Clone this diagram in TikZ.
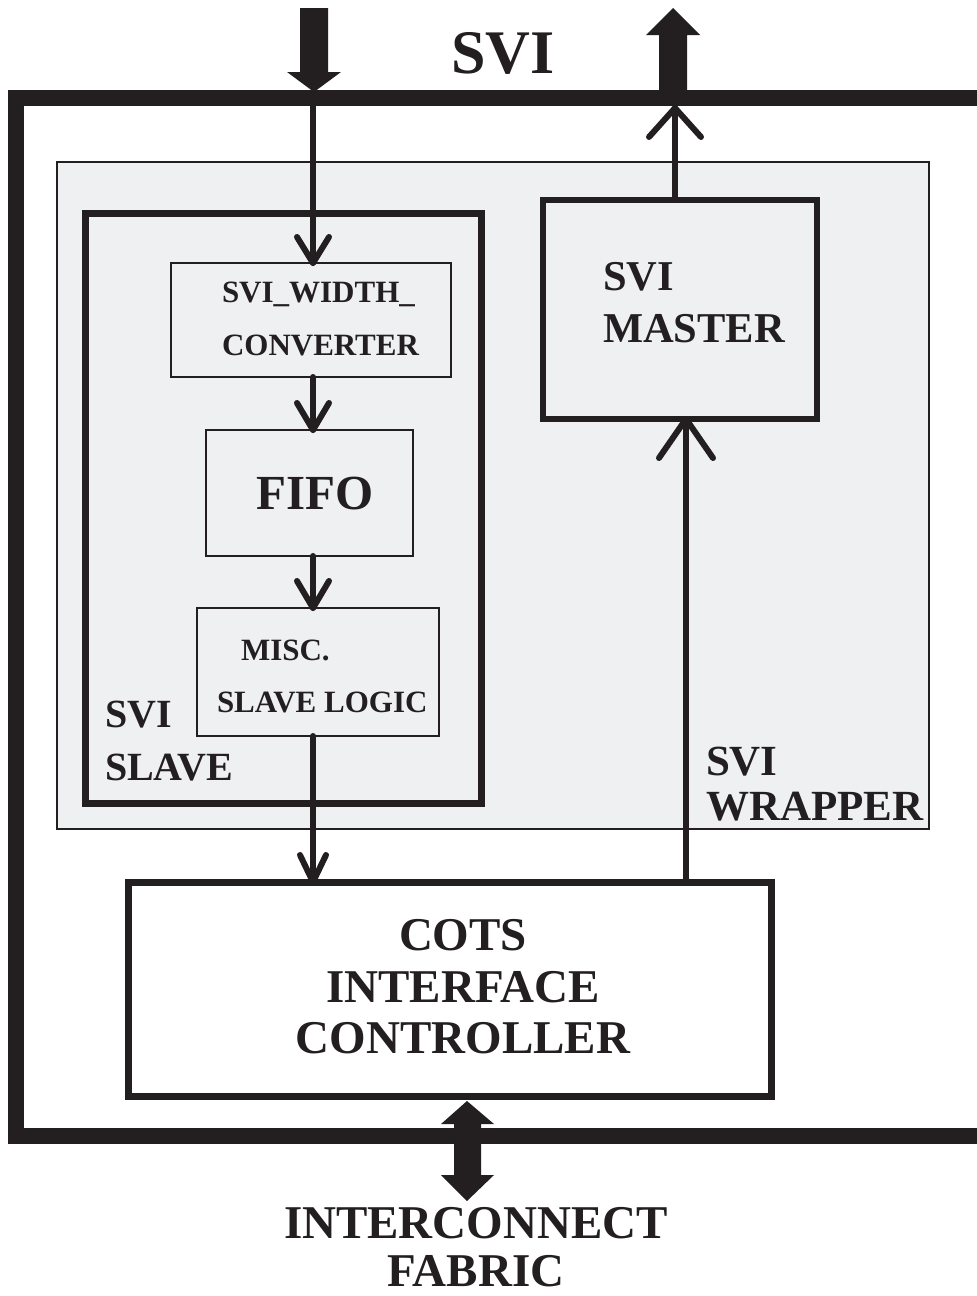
\documentclass[tikz,border=0pt]{standalone}
\usepackage{fontspec}
\setmainfont{Liberation Serif}
\definecolor{ink}{HTML}{231F20}
\definecolor{wrapfill}{HTML}{EFF0F2}
\tikzset{
  box/.style={draw=ink, fill=wrapfill, inner sep=0pt, outer sep=0pt, anchor=north west},
  lbl/.style={inner sep=0pt, outer sep=0pt, text=ink},
  conn/.style={draw=ink, line width=6pt, line cap=round, line join=round},
  bigarrow/.style={fill=ink, draw=none},
}
\newcommand\fs[1]{\fontsize{#1}{#1}\selectfont\bfseries}
\newcommand\vhead[3]{\draw[conn] ([shift={(-#2,#3)}]#1) -- (#1) -- ([shift={(#2,#3)}]#1);}
\begin{document}
\begin{tikzpicture}[x=1pt,y=-1pt]
\clip (0,0) rectangle (977,1296);
\fill[white] (0,0) rectangle (977,1296);
% outer SVI box
\node[box, fill=white, line width=16pt, minimum width=990pt, minimum height=1038pt] (svi) at (16,98) {};
% wrapper
\node[box, line width=2.5pt, minimum width=872pt, minimum height=667pt] (wrap) at (57,162) {};
% slave
\node[box, line width=7pt, minimum width=396pt, minimum height=590pt] (slave) at (85,213) {};
\node[box, line width=2.5pt, minimum width=280pt, minimum height=114pt] (conv) at (171,263) {};
\node[box, line width=2.5pt, minimum width=207pt, minimum height=126pt] (fifo) at (206,430) {};
\node[box, line width=2.5pt, minimum width=242pt, minimum height=128pt] (misc) at (197,608) {};
% master
\node[box, line width=6.5pt, minimum width=274pt, minimum height=219pt] (master) at (543,200) {};
% COTS
\node[box, fill=white, line width=7pt, minimum width=643pt, minimum height=214pt] (cots) at (128,882) {};

% axes for connectors
\coordinate (axl) at (313,0);
\coordinate (axr) at (686,0);
\coordinate (axo) at (675,0);
\coordinate (inTop) at (313,98);
\coordinate (outTip) at (675,108);

% input line
\draw[conn] (inTop) -- (axl |- conv.north);
\coordinate (t1) at (axl |- conv.north);
\vhead{t1}{16}{-26}
% conv -> fifo
\draw[conn] (axl |- conv.south) -- (axl |- fifo.north);
\coordinate (t2) at (axl |- fifo.north);
\vhead{t2}{16}{-27}
% fifo -> misc
\draw[conn] (axl |- fifo.south) -- (axl |- misc.north);
\coordinate (t3) at (axl |- misc.north);
\vhead{t3}{16}{-27}
% misc -> cots
\draw[conn] (axl |- misc.south) -- (axl |- cots.north);
\coordinate (t4) at (axl |- cots.north);
\vhead{t4}{13}{-27}
% cots -> master
\draw[conn] (axr |- cots.north) -- (axr |- master.south);
\coordinate (t5) at (axr |- master.south);
\vhead{t5}{27}{39}
% master -> out
\draw[conn] (axo |- master.north) -- (outTip);
\vhead{outTip}{26}{29}

% big arrows
\fill[bigarrow] (300,8) -- (328,8) -- (328,72) -- (341,72) -- (314,92) -- (287,72) -- (300,72) -- cycle;
\fill[bigarrow] (659,92) -- (687,92) -- (687,35) -- (700,35) -- (673,8) -- (646,35) -- (659,35) -- cycle;
\fill[bigarrow] (454,1124) -- (441,1124) -- (467,1101) -- (494,1124) -- (481,1124) -- (481,1175) -- (494,1175) -- (467,1201) -- (441,1175) -- (454,1175) -- cycle;

% labels
\node[lbl, anchor=base, font=\fs{62}] (tsvi) at (503,73) {SVI};
\node[lbl, anchor=base west, font=\fs{31}] (tconv1) at (222,302) {SVI\_WIDTH\_};
\node[lbl, anchor=base west, font=\fs{31}] (tconv2) at (222,355) {CONVERTER};
\node[lbl, anchor=base, font=\fs{49}] (tfifo) at (315,509) {FIFO};
\node[lbl, anchor=base west, font=\fs{31}] (tmisc1) at (241,660) {MISC.};
\node[lbl, anchor=base west, font=\fs{31}] (tmisc2) at (217,712) {SLAVE LOGIC};
\node[lbl, anchor=base west, font=\fs{40}] (tslave1) at (105,727) {SVI};
\node[lbl, anchor=base west, font=\fs{40}] (tslave2) at (105,780) {SLAVE};
\node[lbl, anchor=base west, font=\fs{42.5}] (tmaster1) at (603,290) {SVI};
\node[lbl, anchor=base west, font=\fs{42.5}] (tmaster2) at (603,342) {MASTER};
\node[lbl, anchor=base west, font=\fs{43}] (twrap1) at (706,775) {SVI};
\node[lbl, anchor=base west, font=\fs{43}] (twrap2) at (706,820) {WRAPPER};
\node[lbl, anchor=base, font=\fs{47}] (tcots1) at (463,950) {COTS};
\node[lbl, anchor=base, font=\fs{47}] (tcots2) at (463,1002) {INTERFACE};
\node[lbl, anchor=base, font=\fs{47}] (tcots3) at (463,1053) {CONTROLLER};
\node[lbl, anchor=base, font=\fs{47}] (tic1) at (476,1238) {INTERCONNECT};
\node[lbl, anchor=base, font=\fs{47}] (tic2) at (476,1286) {FABRIC};
\end{tikzpicture}
\end{document}
